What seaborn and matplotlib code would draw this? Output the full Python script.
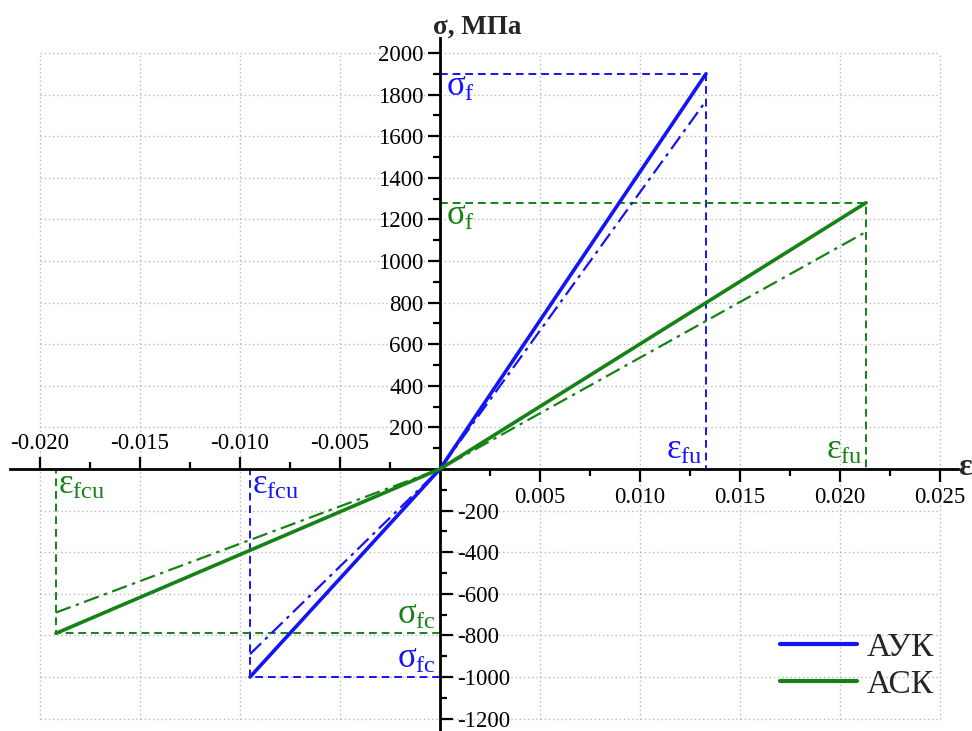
import numpy as np
import pandas as pd
import matplotlib
matplotlib.use("Agg")
import matplotlib.pyplot as plt
import seaborn as sns

# ---- data ----
strain_auk = [-0.0095, 0.0, 0.0133]
stress_auk = [-1000, 0, 1900]
stress_auk_alt = [-890, 0, 1770]
strain_ack = [-0.0192, 0.0, 0.0213]
stress_ack = [-790, 0, 1280]
stress_ack_alt = [-690, 0, 1140]

x_pos_ticks = [0.005, 0.010, 0.015, 0.020, 0.025]
x_pos_labels = ["0.005", "0.010", "0.015", "0.020", "0.025"]
x_neg_ticks = [-0.020, -0.015, -0.010, -0.005]
x_neg_labels = ["-0.020", "-0.015", "-0.010", "-0.005"]
y_pos_ticks = [200, 400, 600, 800, 1000, 1200, 1400, 1600, 1800, 2000]
y_neg_ticks = [-200, -400, -600, -800, -1000, -1200]

BLUE = "#1414f5"
GREEN = "#148214"

sns.set_style("white")
plt.rcParams['font.family'] = ['Liberation Serif', 'DejaVu Serif']
plt.rcParams['mathtext.fontset'] = 'custom'
plt.rcParams['mathtext.rm'] = 'Liberation Serif'
plt.rcParams['mathtext.it'] = 'Liberation Serif'
plt.rcParams['mathtext.bf'] = 'Liberation Serif:bold'

W, H = 972, 731
fig = plt.figure(figsize=(W / 100, H / 100), dpi=100)
ax = fig.add_axes([0, 0, 1, 1])
x0px, y0px = 440, 469
sx, sy = 20000.0, 0.208
ax.set_xlim(-x0px / sx, (W - x0px) / sx)
ax.set_ylim((y0px - H) / sy, y0px / sy)

# grid (bounded box)
gx = [-0.020, -0.015, -0.010, -0.005, 0.005, 0.010, 0.015, 0.020, 0.025]
gy = [-1200, -1000, -800, -600, -400, -200, 200, 400, 600, 800, 1000, 1200, 1400, 1600, 1800, 2000]
ax.vlines(gx, -1200, 2000, colors="#b8b8b8", linestyles=(0, (1, 2)), linewidth=1.0, zorder=0)
ax.hlines(gy, -0.020, 0.025, colors="#b8b8b8", linestyles=(0, (1, 2)), linewidth=1.0, zorder=0)

# reference dashed lines
dash = (0, (4, 2.5))
for eps, sig, col in [(strain_auk[2], stress_auk[2], BLUE), (strain_ack[2], stress_ack[2], GREEN),
                      (strain_auk[0], stress_auk[0], BLUE), (strain_ack[0], stress_ack[0], GREEN)]:
    ax.plot([0, eps, eps], [sig, sig, 0], color=col, linestyle=dash, linewidth=1.4, zorder=2)

# data lines
sns.lineplot(x=strain_auk, y=stress_auk_alt, color=BLUE, ax=ax, linewidth=1.6, sort=False,
             linestyle=(0, (7, 2.5, 1.5, 2.5)), zorder=3)
sns.lineplot(x=strain_ack, y=stress_ack_alt, color=GREEN, ax=ax, linewidth=1.6, sort=False,
             linestyle=(0, (7, 2.5, 1.5, 2.5)), zorder=3)
sns.lineplot(x=strain_auk, y=stress_auk, color=BLUE, ax=ax, linewidth=2.6, sort=False,
             label="АУК", zorder=4)
sns.lineplot(x=strain_ack, y=stress_ack, color=GREEN, ax=ax, linewidth=2.6, sort=False,
             label="АСК", zorder=4)

# spines through origin
for s in ["top", "right"]:
    ax.spines[s].set_visible(False)
ax.spines["left"].set_position(("data", 0))
ax.spines["bottom"].set_position(("data", 0))
ax.spines["left"].set_bounds(-1265, 2070)
ax.spines["bottom"].set_bounds(-0.0215, 0.0259)
for s in ["left", "bottom"]:
    ax.spines[s].set_linewidth(2.0)
    ax.spines[s].set_color("black")

tick_kw = dict(length=9, width=1.6, color="black", labelsize=16.5, labelcolor="black")
mtick_kw = dict(length=5, width=1.6, color="black")

ax.xaxis.set_ticks_position("bottom")
ax.set_xticks(x_pos_ticks, x_pos_labels)
ax.set_xticks([0.0025, 0.0075, 0.0125, 0.0175, 0.0225], minor=True)
ax.tick_params(axis="x", which="major", direction="out", pad=4, **tick_kw)
ax.tick_params(axis="x", which="minor", direction="out", **mtick_kw)

ax.yaxis.set_ticks_position("left")
ax.set_yticks(y_pos_ticks, [str(v) for v in y_pos_ticks])
ax.set_yticks([100, 300, 500, 700, 900, 1100, 1300, 1500, 1700, 1900], minor=True)
ax.tick_params(axis="y", which="major", direction="out", pad=3, **tick_kw)
ax.tick_params(axis="y", which="minor", direction="out", **mtick_kw)
ax.set_xlabel("")
ax.set_ylabel("")

# twin for negative x ticks (above axis)
axt = ax.twiny()
axt.set_xlim(ax.get_xlim())
for s in ["bottom", "left", "right", "top"]:
    axt.spines[s].set_visible(False)
axt.spines["top"].set_position(("data", 0))
axt.xaxis.set_ticks_position("top")
axt.set_xticks(x_neg_ticks, x_neg_labels)
axt.set_xticks([-0.0175, -0.0125, -0.0075, -0.0025], minor=True)
axt.tick_params(axis="x", which="major", direction="out", pad=2, **tick_kw)
axt.tick_params(axis="x", which="minor", direction="out", **mtick_kw)
axt.patch.set_visible(False)

# twin for negative y ticks (right of axis)
axr = ax.twinx()
axr.set_ylim(ax.get_ylim())
for s in ["bottom", "left", "top", "right"]:
    axr.spines[s].set_visible(False)
axr.spines["right"].set_position(("data", 0))
axr.yaxis.set_ticks_position("right")
axr.set_yticks(y_neg_ticks, [str(v) for v in y_neg_ticks])
axr.set_yticks([-100, -300, -500, -700, -900, -1100], minor=True)
axr.tick_params(axis="y", which="major", direction="out", pad=3, **tick_kw)
axr.tick_params(axis="y", which="minor", direction="out", **mtick_kw)
axr.patch.set_visible(False)

# annotations
lab = 25
ax.text(0.0003, 1915, r"$\sigma_{\mathrm{f}}$", color=BLUE, fontsize=lab, ha="left", va="top")
ax.text(0.0003, 1295, r"$\sigma_{\mathrm{f}}$", color=GREEN, fontsize=lab, ha="left", va="top")
ax.text(0.0131, 10, r"$\varepsilon_{\mathrm{fu}}$", color=BLUE, fontsize=lab, ha="right", va="bottom")
ax.text(0.0211, 10, r"$\varepsilon_{\mathrm{fu}}$", color=GREEN, fontsize=lab, ha="right", va="bottom")
ax.text(-0.0094, 0, r"$\varepsilon_{\mathrm{fcu}}$", color=BLUE, fontsize=lab, ha="left", va="top")
ax.text(-0.0191, 0, r"$\varepsilon_{\mathrm{fcu}}$", color=GREEN, fontsize=lab, ha="left", va="top")
ax.text(-0.0002, -785, r"$\sigma_{\mathrm{fc}}$", color=GREEN, fontsize=lab, ha="right", va="bottom")
ax.text(-0.0002, -995, r"$\sigma_{\mathrm{fc}}$", color=BLUE, fontsize=lab, ha="right", va="bottom")

ax.text(-0.00035, 2095, "σ, МПа", fontsize=19.5, fontweight="bold", ha="left", va="baseline")
ax.text(0.02592, 8, "ε", fontsize=23, fontweight="bold", ha="left", va="center")

leg = ax.legend(loc="upper left", bbox_to_anchor=(0.789, 0.153), frameon=False, fontsize=24,
                handlelength=2.3, handletextpad=0.3, labelspacing=0.2, borderaxespad=0)
for h in leg.get_lines():
    h.set_linewidth(3)

fig.savefig("out.png", dpi=100)
